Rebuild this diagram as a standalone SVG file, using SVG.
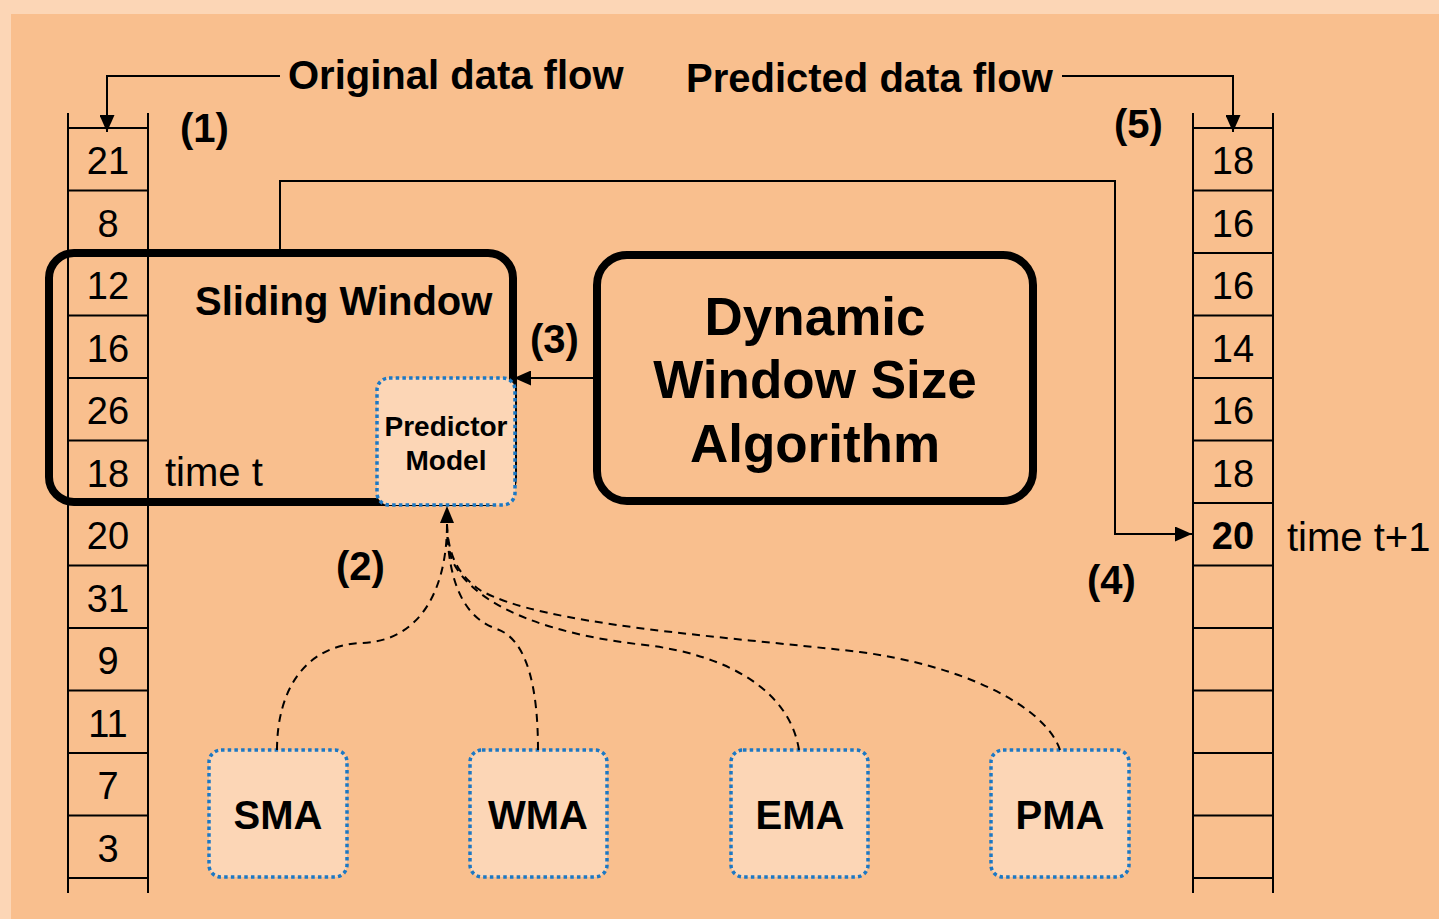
<svg xmlns="http://www.w3.org/2000/svg" width="1439" height="919" viewBox="0 0 1439 919">
  <defs>
    <marker id="arrow" markerUnits="userSpaceOnUse" markerWidth="17" markerHeight="15" refX="17" refY="7.5" orient="auto">
      <path d="M0,0 L17,7.5 L0,15 Z" fill="#000"/>
    </marker>
    <style>
      .bg-outer { fill: #FCD6B6; }
      .bg-main { fill: #F9BF8E; }
      .col { stroke: #000; stroke-width: 2; fill: none; }
      .num { font-family: "Liberation Sans", Arial, sans-serif; font-size: 38px; text-anchor: middle; fill: #000; }
      .numb { font-weight: bold; }
      .lbl { font-family: "Liberation Sans", Arial, sans-serif; font-size: 40px; font-weight: bold; fill: #000; }
      .reg { font-family: "Liberation Sans", Arial, sans-serif; font-size: 40px; fill: #000; }
      .thick { fill: none; stroke: #000; stroke-width: 8; }
      .model { fill: #FCD6B6; stroke: #1C78C4; stroke-width: 3.5; stroke-dasharray: 3.5 3.2; }
      .wire { fill: none; stroke: #000; stroke-width: 2; }
      .dash { fill: none; stroke: #000; stroke-width: 2; stroke-dasharray: 8 6; }
      .mtext { font-family: "Liberation Sans", Arial, sans-serif; font-weight: bold; fill: #000; text-anchor: middle; }
    </style>
  </defs>

  <!-- page background -->
  <rect class="bg-outer" x="0" y="0" width="1439" height="919"/>
  <rect class="bg-main" x="11" y="14" width="1428" height="905"/>

  <!-- original data stream (left column) -->
  <g id="original-column">
    <path class="col" d="M68,113 V893 M148,113 V893
      M68,128 H148 M68,190.5 H148 M68,253 H148 M68,315.5 H148 M68,378 H148 M68,440.5 H148
      M68,503 H148 M68,565.5 H148 M68,628 H148 M68,690.5 H148 M68,753 H148 M68,815.5 H148 M68,878 H148"/>
    <g class="num">
      <text x="108" y="174">21</text>
      <text x="108" y="237">8</text>
      <text x="108" y="299">12</text>
      <text x="108" y="362">16</text>
      <text x="108" y="424">26</text>
      <text x="108" y="487">18</text>
      <text x="108" y="549">20</text>
      <text x="108" y="612">31</text>
      <text x="108" y="674">9</text>
      <text x="108" y="737">11</text>
      <text x="108" y="799">7</text>
      <text x="108" y="862">3</text>
    </g>
  </g>

  <!-- predicted data stream (right column) -->
  <g id="predicted-column">
    <path class="col" d="M1193,113 V893 M1273,113 V893
      M1193,128 H1273 M1193,190.5 H1273 M1193,253 H1273 M1193,315.5 H1273 M1193,378 H1273 M1193,440.5 H1273
      M1193,503 H1273 M1193,565.5 H1273 M1193,628 H1273 M1193,690.5 H1273 M1193,753 H1273 M1193,815.5 H1273 M1193,878 H1273"/>
    <g class="num">
      <text x="1233" y="174">18</text>
      <text x="1233" y="237">16</text>
      <text x="1233" y="299">16</text>
      <text x="1233" y="362">14</text>
      <text x="1233" y="424">16</text>
      <text x="1233" y="487">18</text>
      <text x="1233" y="549" class="numb">20</text>
    </g>
    <text class="reg" x="1287" y="551">time t+1</text>
  </g>

  <!-- sliding window -->
  <g id="sliding-window">
    <rect class="thick" x="49" y="253" width="464" height="249" rx="25" ry="25"/>
    <text class="lbl" x="195" y="315">Sliding Window</text>
    <text class="reg" x="165" y="486">time t</text>
  </g>

  <!-- predictor model -->
  <g id="predictor-model">
    <rect class="model" x="377" y="378" width="138" height="127" rx="12" ry="12"/>
    <text class="mtext" x="446" y="436" font-size="28">Predictor</text>
    <text class="mtext" x="446" y="470" font-size="28">Model</text>
  </g>

  <!-- dynamic window size algorithm -->
  <g id="dwsa">
    <rect class="thick" x="597" y="255" width="436" height="246" rx="30" ry="30"/>
    <text class="mtext" x="815" y="335" font-size="53">Dynamic</text>
    <text class="mtext" x="815" y="398" font-size="53">Window Size</text>
    <text class="mtext" x="815" y="462" font-size="53">Algorithm</text>
  </g>

  <!-- moving average models -->
  <g id="sma">
    <rect class="model" x="209" y="750" width="138" height="127" rx="12" ry="12"/>
    <text class="mtext" x="278" y="829" font-size="40">SMA</text>
  </g>
  <g id="wma">
    <rect class="model" x="470" y="750" width="137" height="127" rx="12" ry="12"/>
    <text class="mtext" x="538" y="829" font-size="40">WMA</text>
  </g>
  <g id="ema">
    <rect class="model" x="731" y="750" width="137" height="127" rx="12" ry="12"/>
    <text class="mtext" x="800" y="829" font-size="40">EMA</text>
  </g>
  <g id="pma">
    <rect class="model" x="991" y="750" width="138" height="127" rx="12" ry="12"/>
    <text class="mtext" x="1060" y="829" font-size="40">PMA</text>
  </g>

  <!-- connectors -->
  <g id="connectors">
    <!-- (1) original data flow -->
    <path class="wire" d="M280,76 H107 V132" marker-end="url(#arrow)"/>
    <!-- (5) predicted data flow -->
    <path class="wire" d="M1062,76 H1233 V132" marker-end="url(#arrow)"/>
    <!-- (4) window output to prediction slot -->
    <path class="wire" d="M280,253 V181 H1115 V534 H1192" marker-end="url(#arrow)"/>
    <!-- (3) window size to predictor -->
    <path class="wire" d="M597,378 H514" marker-end="url(#arrow)"/>
    <!-- (2) model choices to predictor -->
    <path class="dash" d="M277,750 C277,690 305,645 362,643 C420,641 447,590 447,524"/>
    <path class="dash" d="M538,750 C538,690 528,640 497,629 C465,618 448,585 447,524"/>
    <path class="dash" d="M799,750 C790,692 730,655 645,645 C560,636 475,610 452,560 C449,550 447,540 447,524"/>
    <path class="dash" d="M1060,750 C1045,705 960,665 860,652 C720,636 540,625 480,590 C458,575 448,555 447,524"/>
    <path d="M447,506 L440,523 L454,523 Z" fill="#000"/>
  </g>

  <!-- titles and step labels -->
  <g id="labels">
    <text class="lbl" x="288" y="89">Original data flow</text>
    <text class="lbl" x="686" y="92">Predicted data flow</text>
    <text class="lbl" x="180" y="142">(1)</text>
    <text class="lbl" x="336" y="580">(2)</text>
    <text class="lbl" x="530" y="353">(3)</text>
    <text class="lbl" x="1087" y="594">(4)</text>
    <text class="lbl" x="1114" y="138">(5)</text>
  </g>
</svg>
